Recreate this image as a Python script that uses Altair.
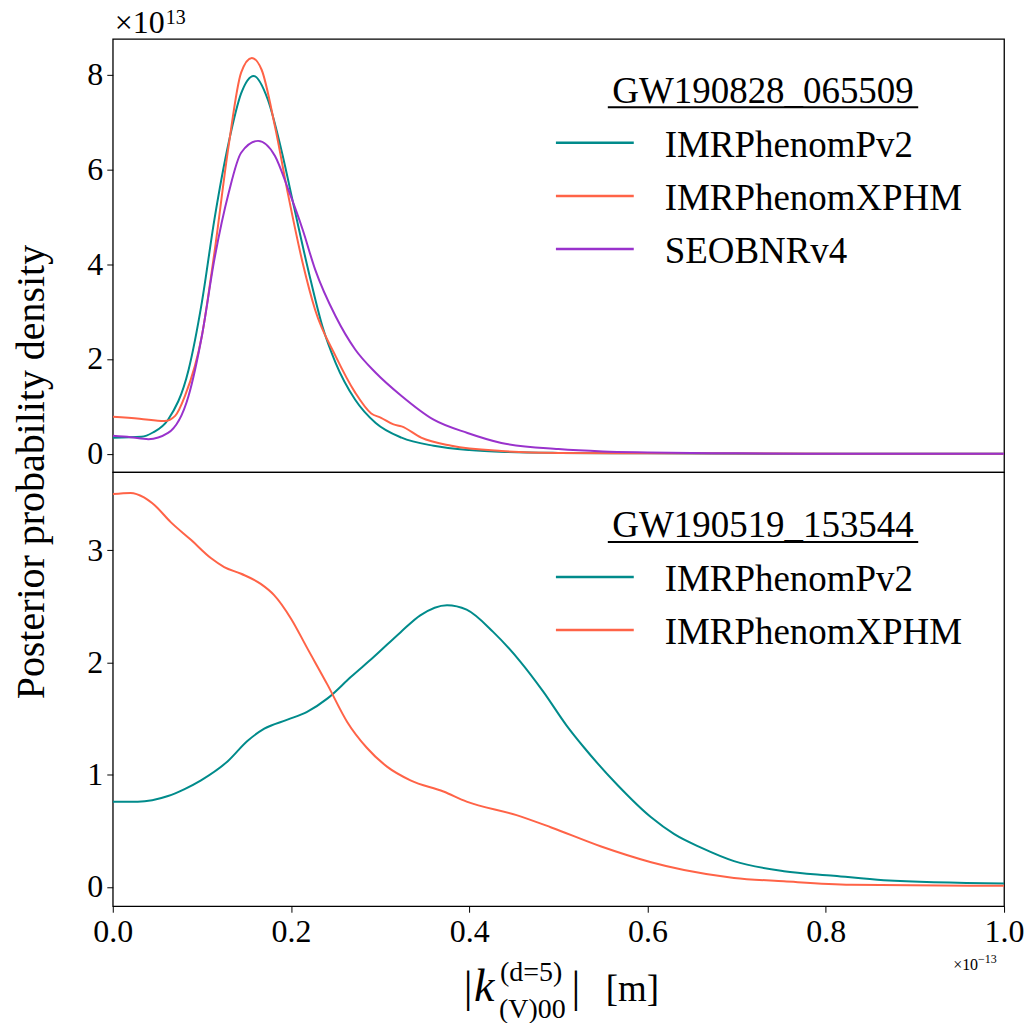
import altair as alt
import pandas as pd

FONT = "Liberation Serif"
MODELS = ["IMRPhenomPv2", "IMRPhenomXPHM", "SEOBNRv4"]
COLORS = ["#008B8B", "#FF6347", "#9932CC"]

# ---------------- top panel: GW190828_065509 (values x 1e13) ----------------
top_title = "GW190828_065509"
top_pv2_k = [0, 0.032, 0.045, 0.062, 0.085, 0.1, 0.114, 0.13, 0.144, 0.158, 0.174, 0.189,
             0.204, 0.22, 0.235, 0.25, 0.272, 0.295, 0.324, 0.36, 0.40, 0.44, 0.5, 0.6, 0.8, 1.0]
top_pv2_v = [0.34, 0.36, 0.45, 0.72, 1.77, 3.2, 4.94, 6.56, 7.6, 7.97, 7.47, 6.42,
             5.15, 3.82, 2.7, 1.92, 1.14, 0.65, 0.34, 0.17, 0.08, 0.04, 0.02, 0.01, 0.0, 0.0]

top_xphm_k = [0, 0.03, 0.058, 0.07, 0.081, 0.1, 0.114, 0.13, 0.144, 0.156, 0.167, 0.182,
              0.197, 0.213, 0.227, 0.25, 0.272, 0.29, 0.301, 0.315, 0.324, 0.346, 0.38,
              0.436, 0.5, 0.6, 1.0]
top_xphm_v = [0.78, 0.74, 0.69, 0.8, 1.22, 2.49, 4.24, 6.5, 8.04, 8.35, 8.1, 6.9,
              5.44, 4.03, 3.04, 2.06, 1.29, 0.85, 0.76, 0.62, 0.58, 0.34, 0.17,
              0.06, 0.02, 0.01, 0.0]

top_seob_k = [0, 0.02, 0.04, 0.062, 0.085, 0.1, 0.114, 0.13, 0.144, 0.163, 0.182, 0.197,
              0.213, 0.227, 0.25, 0.272, 0.295, 0.324, 0.36, 0.398, 0.436, 0.5, 0.55,
              0.6, 0.7, 0.8, 1.0]
top_seob_v = [0.38, 0.35, 0.31, 0.44, 1.22, 2.49, 4.1, 5.5, 6.35, 6.6, 6.28, 5.57,
              4.73, 3.89, 2.9, 2.2, 1.71, 1.22, 0.72, 0.44, 0.23, 0.1, 0.05,
              0.03, 0.01, 0.0, 0.0]

# ---------------- bottom panel: GW190519_153544 ----------------
bot_title = "GW190519_153544"
bot_pv2_k = [0, 0.028, 0.062, 0.08, 0.099, 0.129, 0.151, 0.17, 0.196, 0.218, 0.241, 0.267,
             0.293, 0.323, 0.345, 0.375, 0.397, 0.427, 0.457, 0.483, 0.509, 0.529, 0.566,
             0.604, 0.63, 0.66, 0.697, 0.753, 0.809, 0.865, 1.0]
bot_pv2_v = [0.76, 0.76, 0.81, 0.87, 0.95, 1.12, 1.30, 1.41, 1.49, 1.56, 1.68, 1.87,
             2.05, 2.27, 2.42, 2.51, 2.47, 2.27, 2.01, 1.74, 1.44, 1.24, 0.91,
             0.62, 0.47, 0.35, 0.23, 0.14, 0.10, 0.06, 0.03]

bot_xphm_k = [0, 0.02, 0.035, 0.047, 0.065, 0.088, 0.11, 0.125, 0.144, 0.166, 0.181, 0.2,
              0.218, 0.241, 0.263, 0.285, 0.308, 0.334, 0.371, 0.397, 0.453, 0.492, 0.548,
              0.604, 0.641, 0.697, 0.753, 0.828, 1.0]
bot_xphm_v = [3.50, 3.51, 3.47, 3.40, 3.25, 3.09, 2.93, 2.85, 2.79, 2.70, 2.60, 2.39,
              2.13, 1.80, 1.47, 1.24, 1.07, 0.95, 0.85, 0.76, 0.64, 0.53, 0.36,
              0.22, 0.15, 0.08, 0.05, 0.02, 0.01]

x_ticks = [0.0, 0.2, 0.4, 0.6, 0.8, 1.0]
top_y_ticks = [0, 2, 4, 6, 8]
bot_y_ticks = [0, 1, 2, 3]


def long_df(series):
    rows = []
    for name, (ks, vs) in series.items():
        for k, v in zip(ks, vs):
            rows.append({"model": name, "k": k, "v": v})
    return pd.DataFrame(rows)


df_top = long_df({
    "IMRPhenomPv2": (top_pv2_k, top_pv2_v),
    "IMRPhenomXPHM": (top_xphm_k, top_xphm_v),
    "SEOBNRv4": (top_seob_k, top_seob_v),
})
df_bot = long_df({
    "IMRPhenomPv2": (bot_pv2_k, bot_pv2_v),
    "IMRPhenomXPHM": (bot_xphm_k, bot_xphm_v),
})

W = 893
H_TOP = 434
H_BOT = 435

cscale = alt.Scale(domain=MODELS, range=COLORS)
xscale = alt.Scale(domain=[0, 1], nice=False, zero=False)

ONE = pd.DataFrame({"_": [0]})


def label(text, x, y, size, align="left", baseline="alphabetic", style=None, angle=None):
    kw = dict(text=text, fontSize=size, align=align, baseline=baseline, font=FONT, color="black")
    if style:
        kw["fontStyle"] = style
    if angle is not None:
        kw["angle"] = angle
    return alt.Chart(ONE).mark_text(**kw).encode(x=alt.value(x), y=alt.value(y))


def hline(x1, x2, y, color, width):
    return alt.Chart(ONE).mark_rule(color=color, strokeWidth=width).encode(
        x=alt.value(x1), x2=alt.value(x2), y=alt.value(y))


yaxis_common = dict(title=None, grid=False, domain=False, ticks=True, tickSize=6,
                    tickColor="black", labelFont=FONT, labelFontSize=32, labelColor="black",
                    labelPadding=4, format="d")

top_lines = alt.Chart(df_top).mark_line(strokeWidth=2, interpolate="monotone", clip=True).encode(
    x=alt.X("k:Q", scale=xscale, axis=None),
    y=alt.Y("v:Q", scale=alt.Scale(domain=[-0.385, 8.75], nice=False, zero=False),
            axis=alt.Axis(values=top_y_ticks, **yaxis_common)),
    color=alt.Color("model:N", scale=cscale, legend=None),
)

top_layers = [top_lines,
              label("×10", 2, -6, 32),
              label("13", 53, -15, 20),
              label("Posterior probability density", -81, H_TOP, 40, align="center",
                    baseline="middle", angle=270),
              label(top_title, 651.5, 64, 37, align="center"),
              hline(496, 807, 68.5, "black", 2)]
for i, (name, col) in enumerate(zip(MODELS, COLORS)):
    ly = 104 + i * 53.3
    top_layers.append(hline(444, 522, ly, col, 2.5))
    top_layers.append(label(name, 553, ly + 14, 37))

top = alt.layer(*top_layers).properties(width=W, height=H_TOP)

bot_lines = alt.Chart(df_bot).mark_line(strokeWidth=2, interpolate="monotone", clip=True).encode(
    x=alt.X("k:Q", scale=xscale,
            axis=alt.Axis(values=x_ticks, format=".1f", title=None, grid=False, domain=False,
                          tickSize=6, tickColor="black", labelFont=FONT, labelFontSize=32,
                          labelColor="black", labelPadding=4, labelFlush=False,
                          labelOverlap=False)),
    y=alt.Y("v:Q", scale=alt.Scale(domain=[-0.172, 3.696], nice=False, zero=False),
            axis=alt.Axis(values=bot_y_ticks, **yaxis_common)),
    color=alt.Color("model:N", scale=cscale, legend=None),
)

bot_layers = [bot_lines,
              label(bot_title, 651.5, 65, 37, align="center"),
              hline(496, 807, 70, "black", 2),
              # x-axis multiplier
              label("×10", 867, 499, 16, align="right"),
              label("−13", 867, 492, 12),
              # x-axis title |k^{(d=5)}_{(V)00}| [m]
              label("|", 356, 531, 44, align="center"),
              label("k", 362, 530, 46, style="italic"),
              label("(d=5)", 388, 510, 28),
              label("(V)00", 387, 547, 28),
              label("|", 464, 531, 44, align="center"),
              label("[m]", 494, 530, 37)]
for i, name in enumerate(MODELS[:2]):
    ly = 105 + i * 53.3
    bot_layers.append(hline(444, 522, ly, COLORS[i], 2.5))
    bot_layers.append(label(name, 553, ly + 14, 37))

bot = alt.layer(*bot_layers).properties(width=W, height=H_BOT)

chart = alt.vconcat(top, bot, spacing=0, bounds="flush").properties(
    padding={"left": 11, "top": 5, "right": 5, "bottom": 5}
).configure(font=FONT).configure_view(stroke="black", strokeWidth=1.3)

chart.save("out.html", embed_options={"renderer": "svg", "actions": False})
